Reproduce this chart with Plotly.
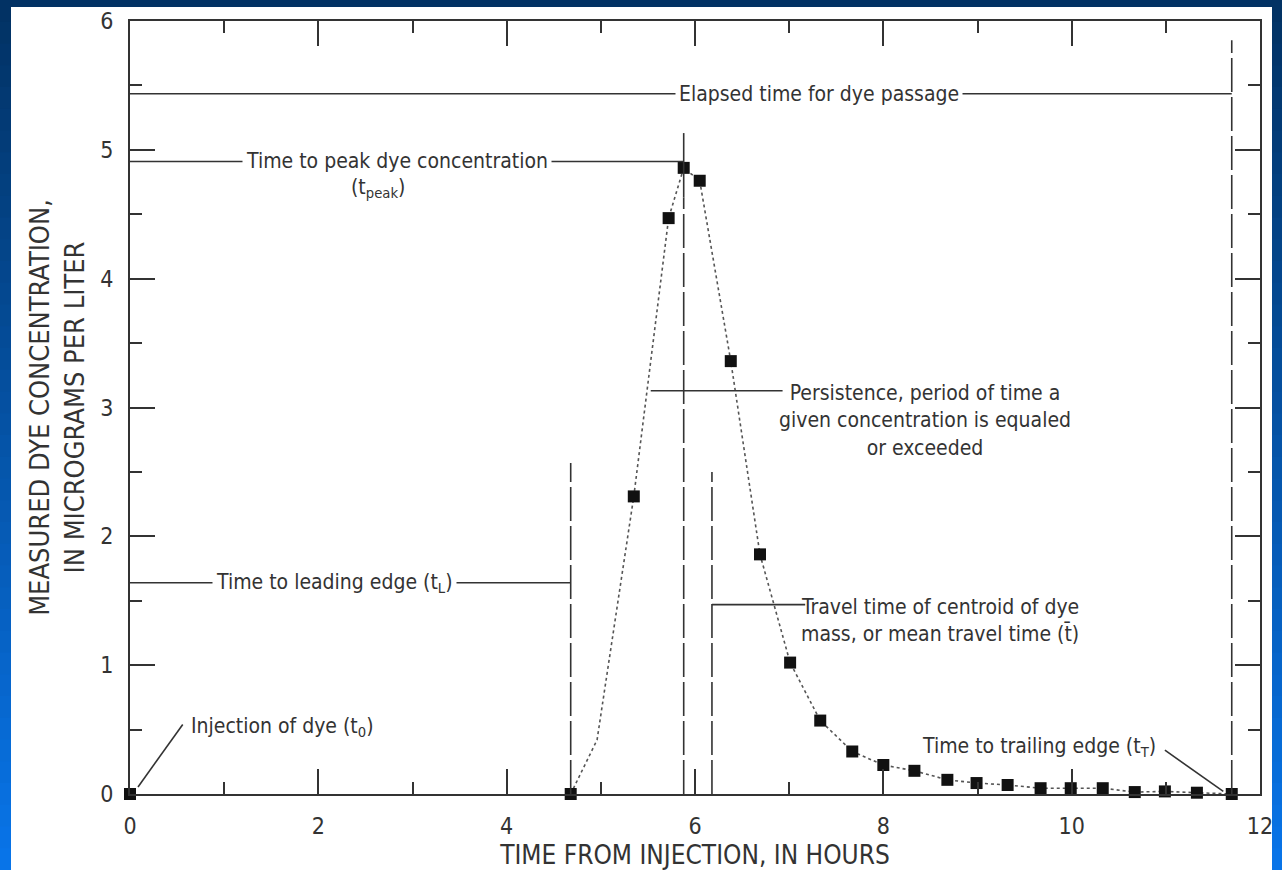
import plotly.graph_objects as go

# Measured dye concentration (micrograms per liter) against time since injection (hours)
time_h = [0.0, 4.68, 5.35, 5.72, 5.88, 6.05, 6.38, 6.69, 7.01, 7.33, 7.67, 8.00,
          8.33, 8.68, 8.99, 9.32, 9.67, 9.99, 10.33, 10.67, 10.99, 11.33, 11.70]
conc = [0.0, 0.0, 2.31, 4.47, 4.86, 4.76, 3.36, 1.86, 1.02, 0.57, 0.33, 0.225,
        0.18, 0.11, 0.085, 0.07, 0.045, 0.045, 0.045, 0.015, 0.02, 0.01, 0.0]

# Hand-drawn curve through the samples, from the leading edge onward
# (adds the bend just after the leading edge)
curve_t = [4.68, 4.96, 5.35, 5.72, 5.88, 6.05, 6.38, 6.69, 7.01, 7.33, 7.67, 8.00,
           8.33, 8.68, 8.99, 9.32, 9.67, 9.99, 10.33, 10.67, 10.99, 11.33, 11.70]
curve_c = [0.0, 0.42, 2.31, 4.47, 4.86, 4.76, 3.36, 1.86, 1.02, 0.57, 0.33, 0.225,
           0.18, 0.11, 0.085, 0.07, 0.045, 0.045, 0.045, 0.015, 0.02, 0.01, 0.0]

# Characteristic times (hours)
t_leading = 4.68
t_peak = 5.88
t_centroid = 6.18
t_trailing = 11.70

x_ticks = [0, 2, 4, 6, 8, 10, 12]
y_ticks = [0, 1, 2, 3, 4, 5, 6]

FONT = "Liberation Sans Narrow, DejaVu Sans Condensed, Arial Narrow, sans-serif"
INK = "#333333"
W, H = 1282, 870
ML, MR, MT, MB = 130, 22, 21, 76

fig = go.Figure()

fig.add_trace(go.Scatter(
    x=curve_t, y=curve_c, mode="lines",
    line=dict(color="#555555", width=1.6, dash="dot"),
    hoverinfo="skip", showlegend=False, cliponaxis=False,
))
fig.add_trace(go.Scatter(
    x=time_h, y=conc, mode="markers",
    marker=dict(symbol="square", size=12, color="#111111"),
    showlegend=False, cliponaxis=False,
))

shapes = []


def seg(x0, y0, x1, y1, dash="solid", width=1.6):
    shapes.append(dict(type="line", xref="x", yref="y", x0=x0, y0=y0, x1=x1, y1=y1,
                       line=dict(color=INK, width=width, dash=dash), layer="above"))


DASH = "34px,5px"
# Vertical markers of the characteristic times
seg(t_leading, 0, t_leading, 2.57, DASH)
seg(t_peak, 0, t_peak, 4.63, DASH)
seg(t_peak, 4.63, t_peak, 5.13)
seg(t_centroid, 0, t_centroid, 2.50, DASH)
seg(t_trailing, 0, t_trailing, 5.85, DASH)

# Leader lines
seg(0, 5.435, t_trailing, 5.435)          # elapsed time
seg(0, 4.91, t_peak, 4.91)                # time to peak
seg(0, 1.64, t_leading, 1.64)             # leading edge
seg(5.53, 3.13, 6.93, 3.13)               # persistence
seg(t_centroid, 1.47, 7.17, 1.47)         # centroid
seg(0.085, 0.055, 0.56, 0.54)             # injection
seg(10.99, 0.34, 11.61, 0.02)             # trailing edge


# Blue frame around the page
def px_x(p):
    return (p - ML) / (W - ML - MR)


def px_y(p):
    return (H - MB - p) / (H - MT - MB)


top_rgb = (2, 50, 100)
bot_rgb = (8, 116, 232)
n_bands = 40
for i in range(n_bands):
    f = i / (n_bands - 1)
    c = tuple(round(a + (b - a) * f) for a, b in zip(top_rgb, bot_rgb))
    col = "rgb(%d,%d,%d)" % c
    y0 = H * i / n_bands
    y1 = H * (i + 1) / n_bands + 1
    for xa, xb in ((0, 11), (1272, W)):
        shapes.append(dict(type="rect", xref="paper", yref="paper",
                           x0=px_x(xa), x1=px_x(xb), y0=px_y(y1), y1=px_y(y0),
                           fillcolor=col, line=dict(width=0), layer="below"))
shapes.append(dict(type="rect", xref="paper", yref="paper",
                   x0=px_x(0), x1=px_x(W), y0=px_y(7), y1=px_y(0),
                   fillcolor="rgb(2,50,100)", line=dict(width=0), layer="below"))

annotations = []


def note(text, x, y, bg=None, align="center", xanchor="center", size=21):
    annotations.append(dict(
        text=text, x=x, y=y, xref="x", yref="y", showarrow=False,
        xanchor=xanchor, yanchor="middle", align=align,
        font=dict(family=FONT, size=size, color=INK),
        bgcolor=bg, borderpad=3,
    ))


note("Elapsed time for dye passage", 7.32, 5.435, bg="white")
note("Time to peak dye concentration", 2.84, 4.91, bg="white")
note("(t<sub>peak</sub>)", 2.63, 4.70)
note("Persistence, period of time a<br>given concentration is equaled<br>or exceeded", 8.44, 2.90)
note("Time to leading edge (t<sub>L</sub>)", 2.17, 1.64, bg="white")
note("Travel time of centroid of dye<br>mass, or mean travel time (t\u0304)", 10.12, 1.35,
     align="right", xanchor="right")
note("Injection of dye (t<sub>0</sub>)", 0.60, 0.52, xanchor="left")
note("Time to trailing edge (t<sub>T</sub>)", 10.94, 0.365, xanchor="right")

axis_common = dict(
    showline=True, linecolor=INK, linewidth=2, mirror="ticks",
    ticks="inside", ticklen=25, tickwidth=2, tickcolor=INK,
    showgrid=False, zeroline=False, automargin=False,
    tickfont=dict(family=FONT, size=23, color=INK),
)

fig.update_layout(
    width=W, height=H,
    margin=dict(l=ML, r=MR, t=MT, b=MB),
    paper_bgcolor="white", plot_bgcolor="white",
    shapes=shapes, annotations=annotations,
    xaxis=dict(
        range=[0, 12], tickvals=x_ticks, ticklabelstandoff=10,
        minor=dict(ticks="inside", ticklen=12, tickwidth=2, tickcolor=INK, dtick=1),
        title=dict(text="TIME FROM INJECTION, IN HOURS",
                   font=dict(family=FONT, size=26, color=INK), standoff=14),
        **axis_common,
    ),
    yaxis=dict(
        range=[0, 6], tickvals=y_ticks, ticklabelstandoff=10,
        minor=dict(ticks="inside", ticklen=12, tickwidth=2, tickcolor=INK, dtick=0.5),
        title=dict(text="MEASURED DYE CONCENTRATION,<br>IN MICROGRAMS PER LITER",
                   font=dict(family=FONT, size=27, color=INK), standoff=8),
        **axis_common,
    ),
)

fig.write_html("out.html")
